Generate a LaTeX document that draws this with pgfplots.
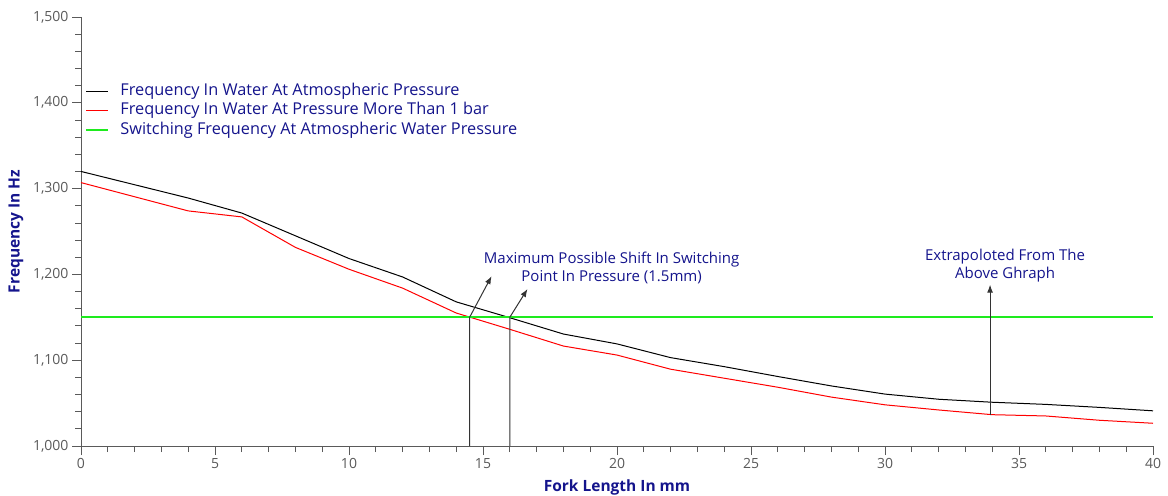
\documentclass[border=0pt]{standalone}
\usepackage{pgfplots}
\pgfplotsset{compat=1.18}
\usepackage{fontspec}
\setmainfont{Open Sans}
\usetikzlibrary{arrows.meta,calc}
\definecolor{navytext}{RGB}{20,20,140}
\definecolor{switchgreen}{RGB}{30,235,30}
\definecolor{axgray}{RGB}{90,90,90}
\begin{document}
\begin{tikzpicture}
\begin{axis}[
  name=ax,
  scale only axis,
  width=1072pt, height=429pt,
  xmin=0, xmax=40, ymin=1000, ymax=1500,
  axis x line=bottom, axis y line=left,
  axis line style={-, axgray, line width=0.8pt},
  xtick={0,5,...,40}, ytick={1000,1100,...,1500},
  minor x tick num=4, minor y tick num=4,
  tick align=outside,
  major tick length=9pt, minor tick length=6pt,
  tick style={axgray, line width=0.8pt},
  /pgf/number format/assume math mode=true,
  /pgf/number format/1000 sep={,},
  tick label style={font=\fontsize{14}{16}\selectfont, text=axgray},
  xlabel={Fork Length In mm},
  ylabel={Frequency In Hz},
  xlabel style={font=\fontsize{15.5}{17}\selectfont\bfseries, text=navytext, at={(axis description cs:0.5,-0.096)}, anchor=center},
  ylabel style={font=\fontsize{15.5}{17}\selectfont\bfseries, text=navytext, at={(axis description cs:-0.0606,0.5)}, anchor=center, rotate=0},
  legend style={at={(axis description cs:0.004,0.85)}, anchor=north west, draw=none, fill=none, inner sep=0pt,
    font=\fontsize{16.3}{18}\selectfont, text=navytext, row sep=0pt,
    nodes={text height=12pt, text depth=4pt, inner ysep=1.75pt, inner xsep=0pt}},
  legend cell align=left,
  legend image code/.code={\draw[#1] (0pt,0pt) -- (22pt,0pt); \path (33pt,0pt);},
  clip=false,
]
\addplot[black, line width=1pt] coordinates {
(0,1320) (4,1289) (6,1271.5) (8,1245) (10,1218.5) (12,1197) (14,1168) (16,1149.5)
(18,1130.5) (20,1119) (22,1103) (24,1092.5) (26,1081) (28,1070) (30,1060.5)
(32,1054.5) (34,1051) (36,1048.5) (38,1045) (40,1041)};
\addlegendentry{Frequency In Water At Atmospheric Pressure}
\addplot[red, line width=1pt] coordinates {
(0,1307) (4,1274) (6,1267) (8,1231.5) (10,1206) (12,1184) (14,1155) (16,1136)
(18,1116.5) (20,1106) (22,1089.5) (24,1079) (26,1068.5) (28,1057) (30,1048)
(32,1042) (34,1036.5) (36,1035) (38,1030) (40,1026.5)};
\addlegendentry{Frequency In Water At Pressure More Than 1 bar}
\addplot[switchgreen, line width=2pt] coordinates {(0,1150) (40,1150)};
\addlegendentry{Switching Frequency At Atmospheric Water Pressure}
% annotations
\addplot[black!80, line width=1pt, -{Latex[length=8pt,width=6pt]}, forget plot] coordinates {(14.5,1000) (14.5,1150) (15.32,1198)};
\addplot[black!80, line width=1pt, -{Latex[length=8pt,width=6pt]}, forget plot] coordinates {(16,1000) (16,1150) (16.66,1183)};
\addplot[black!80, line width=1pt, -{Latex[length=8pt,width=6pt]}, forget plot] coordinates {(33.92,1036.5) (33.92,1188)};
\node[align=center, text=navytext, font=\fontsize{15}{18}\selectfont] at (axis cs:19.8,1207.5) {Maximum Possible Shift In Switching\\Point In Pressure (1.5mm)};
\node[align=center, text=navytext, font=\fontsize{15}{18}\selectfont] at (axis cs:34.48,1210) {Extrapoloted From The\\Above Ghraph};
\end{axis}
\pgfresetboundingbox
\useasboundingbox ($(ax.south west)+(-81pt,-49pt)$) rectangle ($(ax.north east)+(15pt,17pt)$);
\end{tikzpicture}
\end{document}
